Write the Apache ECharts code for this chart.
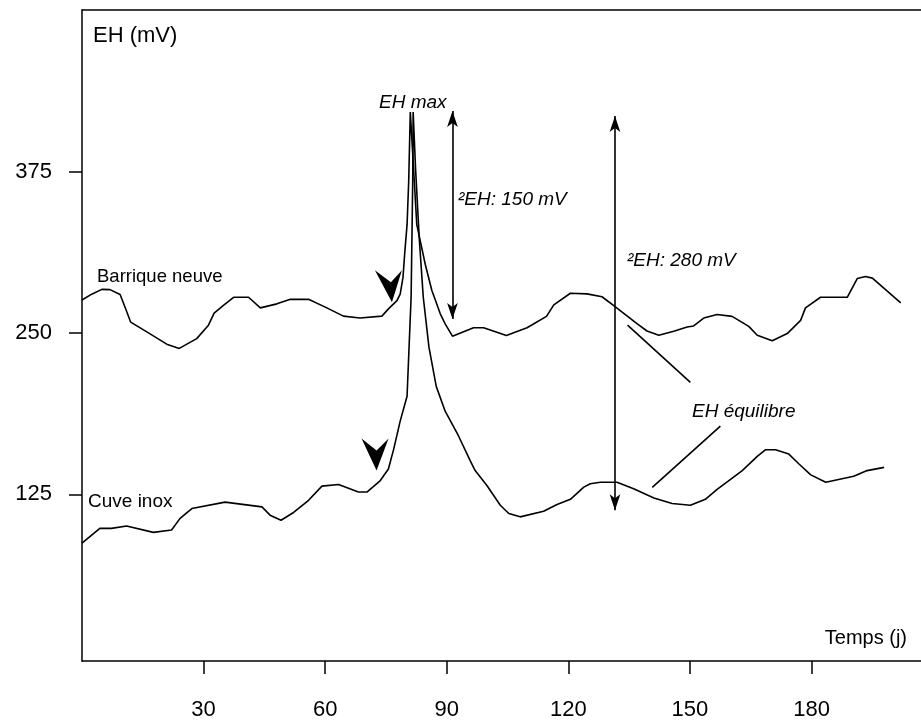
<!DOCTYPE html>
<html><head><meta charset="utf-8">
<script src="https://cdn.jsdelivr.net/npm/echarts@6/dist/echarts.min.js"></script>
<style>html,body{margin:0;padding:0;background:#fff}#c{width:921px;height:721px}</style>
</head><body><div id="c"></div>
<script>
// Data (days, EH in mV)
const barriqueDays = [0,2.4,4.9,6.9,9.4,10.6,12,16,20.9,24,28.3,31.2,32.6,34.9,37.4,41.1,44,48.1,51.4,55.9,60.4,64.5,68.6,74,75.6,77.7,78.5,79.2,79.6,80.2,80.6,81,82.6,84.7,86.3,88.4,89.6,91.4,96.6,99.1,104.7,109.8,114.6,116.4,120.5,124.6,128.3,131.2,137,139.4,142.3,146,149.3,150.9,153.4,156.7,160.4,164.5,166.6,170.3,174,177.3,178.5,182.2,188.8,191.3,193.3,195,202];
const barriqueValues = [275.5,280,283.7,283.5,279.7,270,258.4,250.8,241.3,238,245.6,256,265.3,271.3,277.6,277.6,269.4,272.5,276,276,269.4,263,261.5,263,268.6,275,280,293,310.8,333.8,367,421,333.8,303,283,264.8,257,247.5,254,254,248,254,262.8,271.7,280.7,280.2,278,271.2,257,251.5,248.2,251.3,254.6,255.4,261.5,264.3,262.8,255.1,248.2,243.9,249.5,259.7,269.4,277.6,277.6,292.2,293.7,292.4,273.2];
const cuveDays = [0,4.4,7.3,11,17.6,22.1,24.2,27.1,35.3,44.4,46.4,49.1,52.2,55.9,59.2,63.3,68.2,70.3,73.6,75.6,76.9,78.5,80.2,81.2,81.6,81.7,82.3,83.2,84.2,85.6,87.4,89.6,92.9,95.8,97,99.9,103.2,105.3,108.1,113.9,117.2,120.5,123.8,125.4,127.9,132,136.1,141.1,145.6,150.1,153.8,156.7,162.9,166.6,168.6,171.1,174.4,176.9,179.8,183.5,190.4,193.7,197.9];
const cuveValues = [87.2,98.7,98.7,100.5,95.6,97.4,106.4,114,119,115.3,108.9,105,111,120.4,131.4,132.7,126.8,126.8,135.7,144.7,160,181.7,201,277.6,369,421,377,323.6,277.6,239,208.6,189.4,170.2,151,143.4,131.9,116.6,110.2,107.6,112,117.1,121.2,130.6,133.2,134.4,134.4,129.4,122.2,117.9,116.6,121.2,128.8,143.4,154.4,159.5,159.5,156.2,148.5,140.1,134.4,139,143.4,145.9];
const xTicks = [30,60,90,120,150,180];
const yTicks = [125,250,375];
// Annotations (data units)
const doubleArrows = [[[91.4,421.8],[91.4,260.7]], [[131.5,418],[131.5,112.7]]];
const pointerLines = [[[134.6,256.1],[150.1,211.7]], [[140.7,130.4],[157.5,177.9]]];
const arrowHeads = [[75.6,273.7],[72.3,143.4]];

const FONT = "'Liberation Sans', Arial, sans-serif";
const zip = (a,b) => a.map((v,i)=>[v,b[i]]);
const chart = echarts.init(document.getElementById('c'), null, {renderer:'canvas'});
const lineStyleBlack = {color:'#000', width:1.5};

const txt = (text, x, y, size, italic, align) => ({
  type:'text', x:x, y:y, silent:true,
  style:{text:text, fill:'#000', font:(italic?'italic ':'')+size+'px '+FONT, align:align||'left', verticalAlign:'middle'}
});

chart.setOption({
  animation:false,
  backgroundColor:'#fff',
  grid:{left:82, right:0, top:10, bottom:54},
  xAxis:[{
    type:'value', min:0, max:207,
    axisLine:{show:true, onZero:false, lineStyle:lineStyleBlack},
    axisTick:{show:true, customValues:xTicks, length:13, lineStyle:lineStyleBlack},
    axisLabel:{show:true, customValues:xTicks, margin:38, fontSize:22, color:'#000', fontFamily:FONT},
    splitLine:{show:false}
  },{
    type:'value', min:0, max:207, position:'top',
    axisLine:{show:true, onZero:false, lineStyle:lineStyleBlack},
    axisTick:{show:false}, axisLabel:{show:false}, splitLine:{show:false}
  }],
  yAxis:{
    type:'value', min:-4, max:500,
    axisLine:{show:true, onZero:false, lineStyle:lineStyleBlack},
    axisTick:{show:true, customValues:yTicks, length:13, lineStyle:lineStyleBlack},
    axisLabel:{show:true, customValues:yTicks, margin:30, fontSize:22, color:'#000', fontFamily:FONT},
    splitLine:{show:false}
  },
  series:[{
    name:'Barrique neuve', type:'line', data:zip(barriqueDays,barriqueValues),
    showSymbol:false, symbol:'none', lineStyle:{color:'#000', width:1.6}, itemStyle:{color:'#000'},
    markLine:{
      silent:true, animation:false, symbol:['arrow','arrow'], symbolSize:[8,16],
      label:{show:false}, lineStyle:{color:'#000', width:1.6, type:'solid'},
      data: doubleArrows.map(p=>[{coord:p[0]},{coord:p[1]}]).concat(
        pointerLines.map(p=>[{coord:p[0], symbol:'none'},{coord:p[1], symbol:'none'}]))
    },
    markPoint:{
      silent:true, animation:false,
      label:{show:false},
      data: arrowHeads.map((c,i)=>({
        coord:c,
        symbol: i===0 ? 'path://M0,0 L16,12 L27,0 L17,32 Z' : 'path://M0,0 L15,12 L27,0 L15,32 Z',
        symbolSize:[27,32], symbolOffset:[0,-16],
        itemStyle:{color:'#000'}
      }))
    }
  },{
    name:'Cuve inox', type:'line', data:zip(cuveDays,cuveValues),
    showSymbol:false, symbol:'none', lineStyle:{color:'#000', width:1.6}, itemStyle:{color:'#000'}
  }],
  graphic:[
    txt('EH (mV)', 93, 36, 22, false),
    txt('Temps (j)', 907, 638, 20, false, 'right'),
    txt('Barrique neuve', 97, 277, 18.5, false),
    txt('Cuve inox', 88, 502, 19, false),
    txt('EH max', 379, 103, 19, true),
    txt('²EH: 150 mV', 458, 200, 19, true),
    txt('²EH: 280 mV', 627, 261, 19, true),
    txt('EH équilibre', 692, 412, 19, true)
  ]
});
</script>
</body></html>
